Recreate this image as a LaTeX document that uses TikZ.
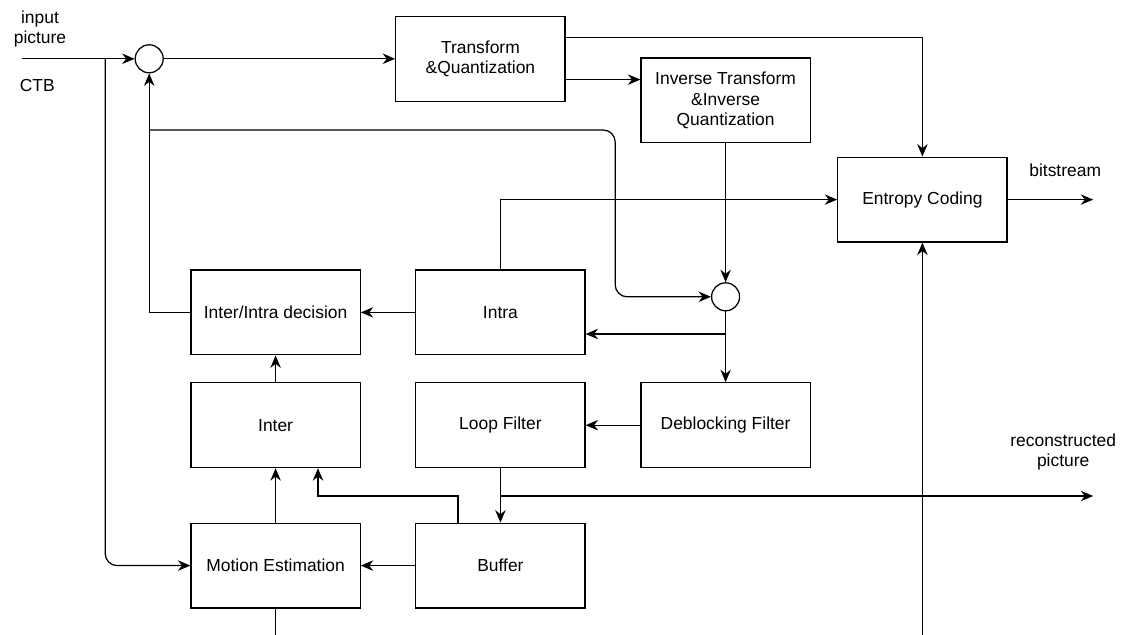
\documentclass[tikz,border=0pt]{standalone}
\usepackage{fontspec}
\setmainfont{Liberation Sans}
\usetikzlibrary{arrows.meta}
\begin{document}
\begin{tikzpicture}[
    font=\fontsize{12.4}{14.4}\selectfont,
    line width=0.9pt,
    >={Stealth[length=3.1mm,width=2.6mm,inset=1mm]},
    block/.style={draw, minimum width=4.23cm, minimum height=2.12cm, align=center, inner sep=1pt},
    adder/.style={draw, circle, minimum size=0.7cm, inner sep=0pt},
    lbl/.style={align=center}
  ]
   \useasboundingbox (0,0) rectangle (28.075,-15.875);
   % blocks
   \node[block] (tq)    at (12.01,-1.47)  {Transform\\\&Quantization};
   \node[block] (itq)   at (18.14,-2.51)  {Inverse Transform\\\&Inverse\\Quantization};
   \node[block] (ec)    at (23.06,-4.99)  {Entropy Coding};
   \node[block] (dec)   at (6.89,-7.81)   {Inter/Intra decision};
   \node[block] (intra) at (12.51,-7.81)  {Intra};
   \node[block] (inter) at (6.89,-10.63)  {Inter};
   \node[block] (lf)    at (12.51,-10.63) {Loop Filter};
   \node[block] (db)    at (18.14,-10.63) {Deblocking Filter};
   \node[block] (me)    at (6.89,-14.14)  {Motion Estimation};
   \node[block] (buf)   at (12.51,-14.14) {Buffer};
   \node[adder] (sum1)  at (3.73,-1.47)   {};
   \node[adder] (sum2)  at (18.14,-7.42)  {};
   % labels
   \node[lbl] (inlbl)  at (1.0,-0.73)   {input\\picture};
   \node[lbl] (ctblbl) at (0.93,-2.13)  {CTB};
   \node[lbl] (bslbl)  at (26.63,-4.25) {bitstream};
   \node[lbl] (reclbl) at (26.58,-11.3) {reconstructed\\picture};
   % free ends
   \coordinate (in)     at (0.55,-1.47);
   \coordinate (inb)    at (2.63,-1.47);
   \coordinate (bsout)  at (27.33,-4.99);
   \coordinate (recout) at (27.33,-12.4);
   \coordinate (fb)     at (3.73,-3.25);
   \coordinate (fbturn) at (15.38,-3.25);
   \coordinate (s2b)    at (18.14,-8.35);
   \coordinate (lfb)    at (12.51,-12.4);
   \coordinate (tqa)    at ([yshift=0.54cm]tq.east);
   \coordinate (tqb)    at ([yshift=-0.52cm]tq.east);
   \coordinate (bufa)   at ([xshift=-1.06cm]buf.north);
   \coordinate (interb) at ([xshift=1.06cm]inter.south);
   \coordinate (mebot)  at (me.south |- 0,-15.875);
   \coordinate (ecbot)  at (ec.south |- 0,-15.875);
   % connectors
   \draw[->] (in) -- (sum1.west);
   \draw[->,rounded corners=0.3cm] (inb) |- (me.west);
   \draw[->] (sum1.east) -- (sum1.east -| tq.west);
   \draw[->] (tqa) -| (ec.north);
   \draw[->] (tqb) -- (tqb -| itq.west);
   \draw[->] (itq.south) -- (sum2.north);
   \draw[->] (dec.west) -| (sum1.south);
   \draw[->,rounded corners=0.3cm] (fb) -- (fbturn) |- (sum2.west);
   \draw[->] (intra.north) |- (ec.west);
   \draw[->] (intra.west) -- (dec.east);
   \draw[->] (sum2.south) -- (db.north);
   \draw[->] (s2b) -- (s2b -| intra.east);
   \draw[->] (db.west) -- (lf.east);
   \draw[->] (lf.south) -- (buf.north);
   \draw[->] (lfb) -- (recout);
   \draw[->] (bufa) -- (bufa |- lfb) -| (interb);
   \draw[->] (buf.west) -- (me.east);
   \draw[->] (me.north) -- (inter.south);
   \draw[->] (inter.north) -- (dec.south);
   \draw (me.south) -- (mebot);
   \draw[->] (ecbot) -- (ec.south);
   \draw[->] (ec.east) -- (bsout);
\end{tikzpicture}
\end{document}
